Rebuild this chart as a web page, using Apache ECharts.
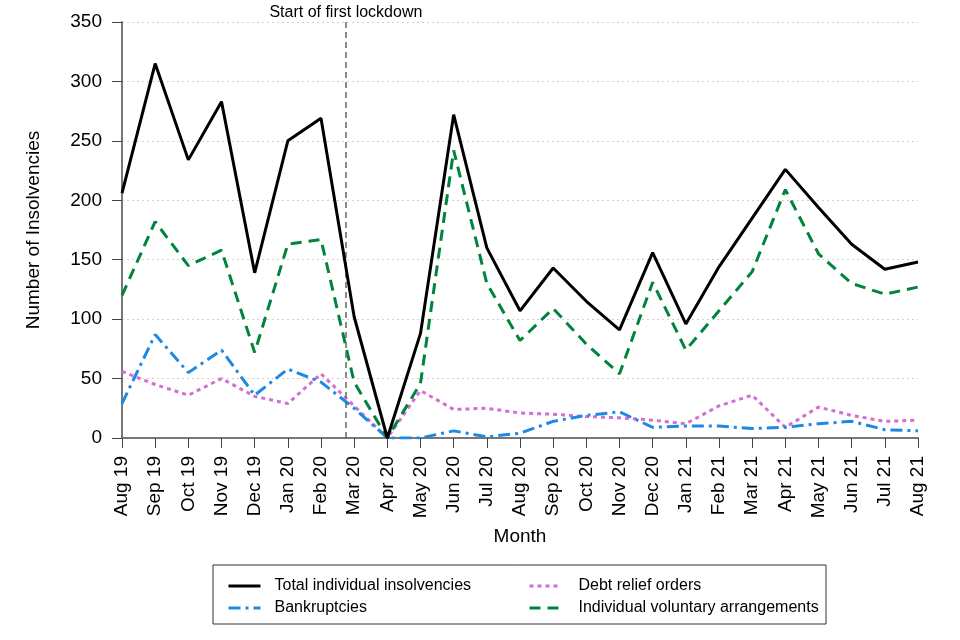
<!DOCTYPE html>
<html>
<head>
<meta charset="utf-8">
<script src="https://cdn.jsdelivr.net/npm/echarts@6/dist/echarts.min.js"></script>
<style>html,body{margin:0;padding:0;background:#fff;}#c{width:960px;height:640px;}</style>
</head>
<body>
<div id="c"></div>
<script>
const months = ['Aug 19','Sep 19','Oct 19','Nov 19','Dec 19','Jan 20','Feb 20','Mar 20','Apr 20','May 20','Jun 20','Jul 20','Aug 20','Sep 20','Oct 20','Nov 20','Dec 20','Jan 21','Feb 21','Mar 21','Apr 21','May 21','Jun 21','Jul 21','Aug 21'];
const total = [206,315,234,283,139,250,269,102,0,88,272,160,107,143,115,91,156,96,144,185,226,194,163,142,148];
const bankruptcies = [29,87,55,74,36,58,47,25,0,0,6,1,4,14,19,22,9,10,10,8,9,12,14,7,6];
const dro = [56,45,36,50,35,29,54,27,0,40,24,25,21,20,18,17,15,12,27,36,9,26,19,14,15];
const iva = [120,182,145,158,72,163,167,47,0,46,242,130,82,109,79,54,131,74,107,140,209,155,130,121,127];
const yTicks = [0,50,100,150,200,250,300,350];
const lockdownPos = 6.75;
const lockdownLabel = 'Start of first lockdown';

const FONT = 'Liberation Sans, Arial, sans-serif';
const chart = echarts.init(document.getElementById('c'));

function legendCol(left, names, pad) {
  return {
    left: left, top: 578, orient: 'vertical', padding: 0, itemGap: 6,
    itemWidth: 32, itemHeight: 14,
    itemStyle: {opacity: 0},
    lineStyle: {width: 3},
    data: names,
    formatter: function(n){ return '{a|' + n + '}'; },
    textStyle: {
      fontSize: 16, color: '#000', fontFamily: FONT,
      rich: {a: {padding: [0, 0, 0, pad], fontSize: 16, fontFamily: FONT, color: '#000'}}
    }
  };
}

chart.setOption({
  animation: false,
  textStyle: {fontFamily: FONT},
  grid: {left: 122, right: 42, top: 22, bottom: 202},
  xAxis: [{
    type: 'category', data: months, boundaryGap: false,
    name: 'Month', nameLocation: 'middle', nameGap: 89,
    nameTextStyle: {fontSize: 19, color: '#000', fontFamily: FONT},
    axisLine: {lineStyle: {color: '#777', width: 2}},
    axisTick: {alignWithLabel: true, length: 10, lineStyle: {color: '#444', width: 1}},
    axisLabel: {rotate: 90, fontSize: 19, color: '#000', margin: 18, fontFamily: FONT, interval: 0},
    splitLine: {show: false}
  }, {
    type: 'value', min: 0, max: 24, show: false
  }],
  yAxis: {
    type: 'value', min: yTicks[0], max: yTicks[yTicks.length-1], interval: 50,
    name: 'Number of Insolvencies', nameLocation: 'middle', nameGap: 79,
    nameTextStyle: {fontSize: 19, color: '#000', fontFamily: FONT},
    axisLine: {show: true, lineStyle: {color: '#777', width: 2}},
    axisTick: {show: true, length: 10, lineStyle: {color: '#444'}},
    axisLabel: {fontSize: 19, color: '#000', margin: 20, fontFamily: FONT},
    splitLine: {show: true, lineStyle: {color: '#d0d0d0', type: [2, 3], width: 1}}
  },
  graphic: [{
    type: 'rect', x: 213, y: 565, silent: true,
    shape: {x: 0, y: 0, width: 613, height: 59},
    style: {fill: 'none', stroke: '#333', lineWidth: 1}
  }],
  legend: [
    legendCol(227, ['Total individual insolvencies', 'Bankruptcies'], 9),
    legendCol(528, ['Debt relief orders', 'Individual voluntary arrangements'], 12)
  ],
  series: [
    {name: 'Total individual insolvencies', type: 'line', data: total, symbol: 'none',
     lineStyle: {color: '#000', width: 3}, itemStyle: {color: '#000'}, z: 5},
    {name: 'Bankruptcies', type: 'line', data: bankruptcies, symbol: 'none',
     lineStyle: {color: '#1E88E5', width: 3, type: [12, 5, 3, 5]}, itemStyle: {color: '#1E88E5'}, z: 3},
    {name: 'Debt relief orders', type: 'line', data: dro, symbol: 'none',
     lineStyle: {color: '#D36ED3', width: 3, type: [4, 4]}, itemStyle: {color: '#D36ED3'}, z: 2},
    {name: 'Individual voluntary arrangements', type: 'line', data: iva, symbol: 'none',
     lineStyle: {color: '#00843D', width: 3, type: [11, 7]}, itemStyle: {color: '#00843D'}, z: 4},
    {name: 'lockdown', type: 'line', xAxisIndex: 1, data: [], symbol: 'none',
     markLine: {
       silent: true, symbol: 'none',
       lineStyle: {color: '#666', type: [6, 4], width: 1.5},
       label: {show: true, position: 'end', formatter: lockdownLabel, fontSize: 16, color: '#000', fontFamily: FONT, distance: 1},
       data: [{xAxis: lockdownPos}]
     }}
  ]
});
</script>
</body>
</html>
